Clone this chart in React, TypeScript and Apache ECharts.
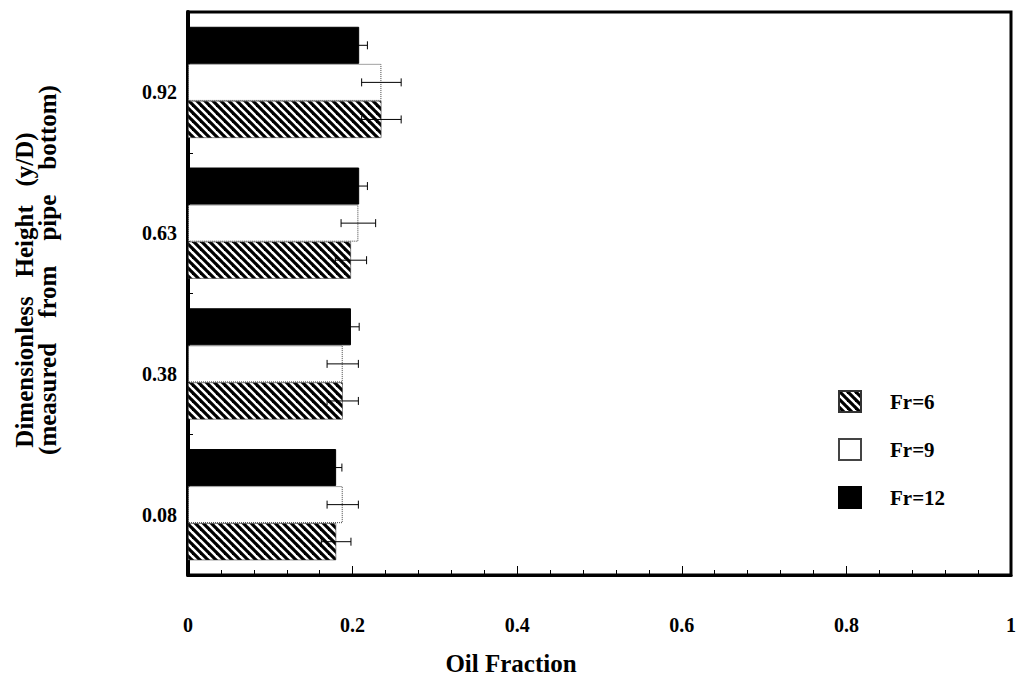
import React, { useEffect, useRef } from 'react';
import * as echarts from 'echarts';

const categories = ['0.08', '0.38', '0.63', '0.92'];
const legendNames = ['Fr=6', 'Fr=9', 'Fr=12'];
const fr6 = [0.18, 0.188, 0.198, 0.235];
const fr9 = [0.188, 0.188, 0.207, 0.235];
const fr12 = [0.18, 0.198, 0.208, 0.208];
const fr6Err = [0.018, 0.019, 0.019, 0.024];
const fr9Err = [0.019, 0.019, 0.021, 0.024];
const fr12Err = [0.007, 0.01, 0.01, 0.01];
const xTickLabels = ['0', '0.2', '0.4', '0.6', '0.8', '1'];

const GAP = 0.21;
const SERIF = '"Liberation Serif", "Times New Roman", serif';

function makeHatch(): HTMLCanvasElement {
  const c = document.createElement('canvas');
  c.width = 8;
  c.height = 8;
  const ctx = c.getContext('2d')!;
  ctx.fillStyle = '#fff';
  ctx.fillRect(0, 0, 8, 8);
  ctx.strokeStyle = '#000';
  ctx.lineWidth = 3.2;
  for (const o of [-8, 0, 8]) {
    ctx.beginPath();
    ctx.moveTo(o - 2, -2);
    ctx.lineTo(o + 10, 10);
    ctx.stroke();
  }
  return c;
}

export default function App() {
  const ref = useRef<HTMLDivElement>(null);
  useEffect(() => {
    if (!ref.current) return;
    const chart = echarts.init(ref.current, null, { renderer: 'svg' });
    const hatch = makeHatch();
    // drawn order: first series at top of group
    const drawn = [
      { name: 'Fr=12', vals: fr12, errs: fr12Err },
      { name: 'Fr=9', vals: fr9, errs: fr9Err },
      { name: 'Fr=6', vals: fr6, errs: fr6Err },
    ];
    const styles: Record<string, any> = {
      'Fr=12': { color: '#000', borderColor: '#000', borderWidth: 1 },
      'Fr=9': { color: '#fff', borderColor: '#444', borderWidth: 1, borderType: 'dotted' },
      'Fr=6': {
        color: { type: 'pattern', image: hatch, repeat: 'repeat', imageWidth: 8, imageHeight: 8 },
        borderColor: '#333',
        borderWidth: 0.6,
      },
    };
    const errData: any[] = [];
    drawn.forEach((s, k) => {
      s.vals.forEach((v, i) => errData.push([v, i, s.errs[i], k]));
    });
    const axisFont = { fontFamily: SERIF, fontWeight: 'bold', fontSize: 20, color: '#000' };
    const titleStyle = {
      fontFamily: SERIF,
      fontWeight: 'bold',
      fontSize: 25,
      fill: '#000',
      align: 'center',
      verticalAlign: 'middle',
    };
    const option: any = {
      animation: false,
      backgroundColor: '#fff',
      grid: {
        left: 188,
        right: 3,
        top: 12,
        bottom: 107,
        show: true,
        borderColor: '#000',
        borderWidth: 3,
        backgroundColor: 'transparent',
      },
      legend: {
        orient: 'vertical',
        left: 833,
        top: 385,
        itemWidth: 22,
        itemHeight: 21,
        itemGap: 25,
        icon: 'rect',
        data: legendNames,
        textStyle: { ...axisFont, fontSize: 21, padding: [0, 0, 0, 24] },
      },
      xAxis: {
        type: 'value',
        min: 0,
        max: 1,
        interval: 0.2,
        axisLine: { show: true, lineStyle: { color: '#000', width: 3 } },
        axisTick: { show: true, inside: true, length: 9, lineStyle: { color: '#000', width: 1 } },
        minorTick: { show: true, splitNumber: 5, length: 5, lineStyle: { color: '#000', width: 1 } },
        splitLine: { show: false },
        axisLabel: {
          ...axisFont,
          margin: 40,
          formatter: (v: number) => xTickLabels[Math.round(v / 0.2)] ?? String(v),
        },
      },
      yAxis: {
        type: 'category',
        data: categories,
        axisLine: { show: true, lineStyle: { color: '#000', width: 4 } },
        axisTick: { show: true, inside: true, length: 5, lineStyle: { color: '#000', width: 1 } },
        axisLabel: { ...axisFont, margin: 11, verticalAlign: 'top' },
      },
      graphic: [
        {
          type: 'text',
          x: 24,
          y: 290,
          rotation: Math.PI / 2,
          style: { ...titleStyle, text: 'Dimensionless   Height   (y/D)' },
        },
        {
          type: 'text',
          x: 47,
          y: 270,
          rotation: Math.PI / 2,
          style: { ...titleStyle, text: '(measured    from    pipe    bottom)' },
        },
        {
          type: 'text',
          x: 511,
          y: 663,
          style: { ...titleStyle, text: 'Oil Fraction' },
        },
      ],
      series: [
        ...drawn.map((s) => ({
          name: s.name,
          type: 'bar',
          data: s.vals,
          barGap: '0%',
          barCategoryGap: GAP * 100 + '%',
          itemStyle: styles[s.name],
          emphasis: { disabled: true },
        })),
        {
          type: 'custom',
          name: 'err',
          data: errData,
          encode: { x: 0, y: 1 },
          z: 10,
          silent: true,
          renderItem: (params: any, api: any) => {
            const val = api.value(0);
            const cat = api.value(1);
            const err = api.value(2);
            const k = api.value(3);
            const c = api.coord([val, cat]);
            const band = api.size([0, 1])[1];
            const total = band * (1 - GAP);
            const bw = total / 3;
            const y = c[1] - total / 2 + (k + 0.5) * bw;
            const x1 = api.coord([val - err, cat])[0];
            const x2 = api.coord([val + err, cat])[0];
            const st = { stroke: '#000', lineWidth: 1 };
            return {
              type: 'group',
              children: [
                { type: 'line', shape: { x1, y1: y, x2, y2: y }, style: st },
                { type: 'line', shape: { x1, y1: y - 4, x2: x1, y2: y + 4 }, style: st },
                { type: 'line', shape: { x1: x2, y1: y - 4, x2, y2: y + 4 }, style: st },
              ],
            };
          },
        },
      ],
    };
    chart.setOption(option);
    return () => chart.dispose();
  }, []);
  return (
    <div
      ref={ref}
      style={{ position: 'fixed', left: 0, top: 0, width: 1019, height: 682, background: '#fff' }}
    />
  );
}
